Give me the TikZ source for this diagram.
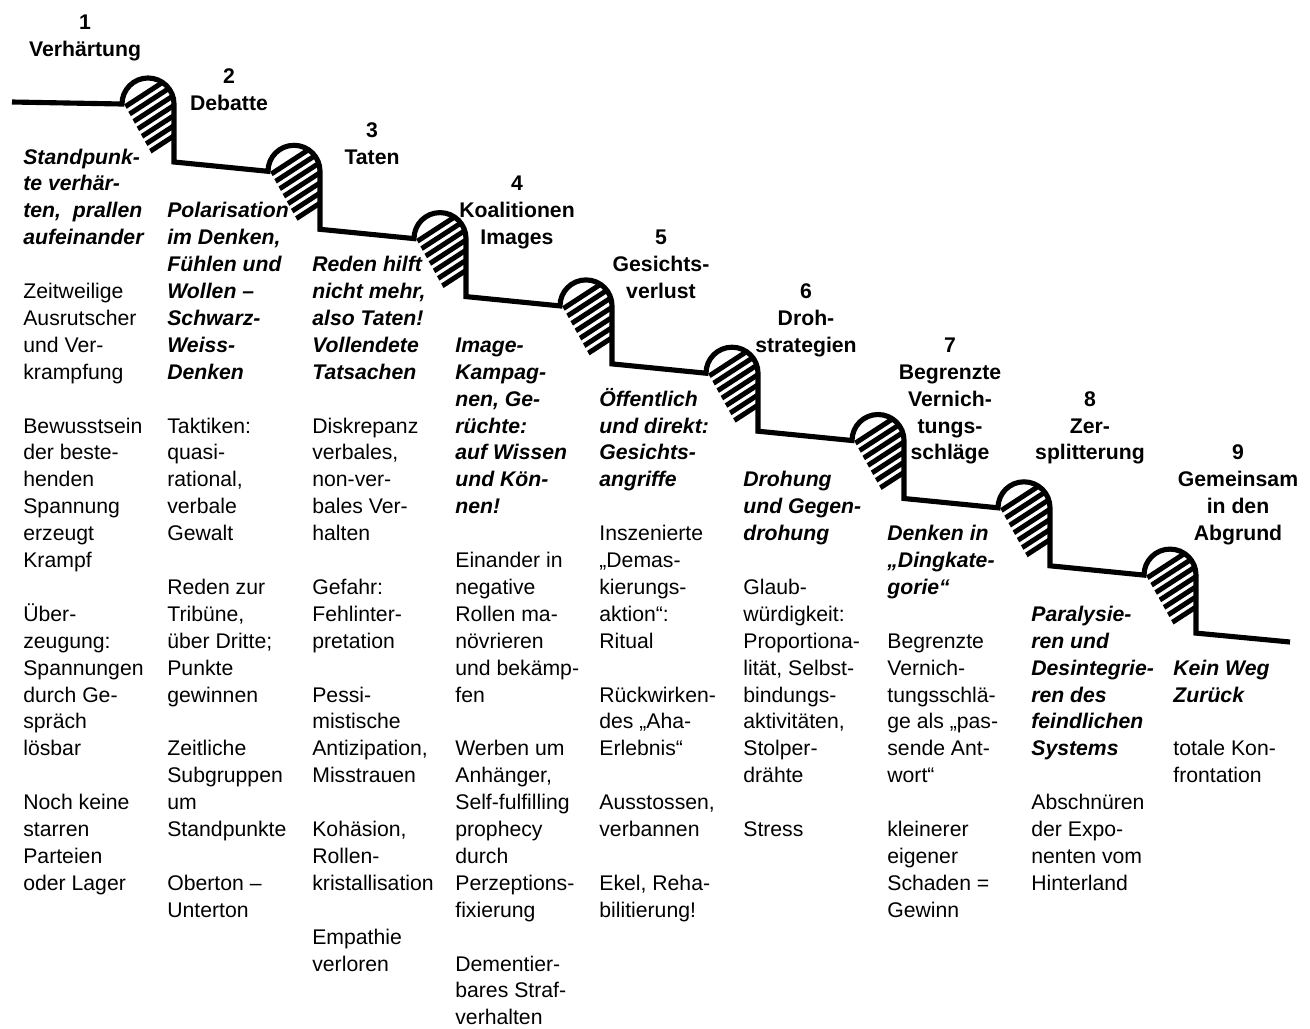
\documentclass[tikz,border=0pt]{standalone}
\usepackage{fontspec}
\setmainfont{Liberation Sans}
\newcommand\Para[5]{%
  \foreach \t [count=\k from 0] in {#5}{%
    \node[#2] (#1-\k) at (#3,{-(164+26.9*(#4+\k))}) {\t};}}
\begin{document}
\begin{tikzpicture}[x=0.566pt,y=0.566pt,
  txt/.style={anchor=base west,inner sep=0pt,font=\fontsize{12}{14}\selectfont},
  bi/.style={anchor=base west,inner sep=0pt,font=\fontsize{12}{14}\selectfont\bfseries\itshape},
  ttl/.style={anchor=base,inner sep=0pt,font=\fontsize{12}{14}\selectfont\bfseries},
  stair/.style={line width=2.9pt,line join=miter},
  hatch/.style={line width=2.83pt,line cap=butt}]
\useasboundingbox (0,0) rectangle (1310,-1028);

% hatching of the steps
\foreach \i in {0,...,7}{
  \begin{scope}[shift={({122+146*\i},{-(104+67.3*\i)})}]
    \clip (2,0) arc[start angle=180,end angle=0,radius=13.58pt] -- (52,0) -- (52,-60) -- (35.5,-60) -- cycle;
    \foreach \c in {4,12.5,...,55}{
      \draw[hatch] ({0.545*\c-50.3},{-0.839*\c-32.7}) -- ({0.545*\c+50.3},{-0.839*\c+32.7});
    }
  \end{scope}
}

% staircase line
\draw[stair] (12,-102) -- (122,-104)
  \foreach \i in {1,...,7}{ arc[start angle=180,end angle=0,radius=14.72pt] -- ++(0,-58) -- ({122+146*\i},{-(104+67.3*\i)}) }
  arc[start angle=180,end angle=0,radius=14.72pt] -- ++(0,-58) -- (1290,-642);

% titles
\Para{t1}{ttl}{85}{-5}{1,Verhärtung}
\Para{t2}{ttl}{229}{-3}{2,Debatte}
\Para{t3}{ttl}{372}{-1}{3,Taten}
\Para{t4}{ttl}{517}{1}{4,Koalitionen,Images}
\Para{t5}{ttl}{661}{3}{5,Gesichts-,verlust}
\Para{t6}{ttl}{806}{5}{6,Droh-,strategien}
\Para{t7}{ttl}{950}{7}{7,Begrenzte,Vernich-,tungs-,schläge}
\Para{t8}{ttl}{1090}{9}{8,Zer-,splitterung}
\Para{t9}{ttl}{1238}{11}{9,Gemeinsam,in den,Abgrund}

% column 1
\Para{c1a}{bi}{23}{0}{Standpunk-,te verhär-,{ten,\ \ prallen},aufeinander}
\Para{c1b}{txt}{23}{5}{Zeitweilige,Ausrutscher,und Ver-,krampfung}
\Para{c1c}{txt}{23}{10}{Bewusstsein,der beste-,henden,Spannung,erzeugt,Krampf}
\Para{c1d}{txt}{23}{17}{Über-,zeugung:,Spannungen,durch Ge-,spräch,lösbar}
\Para{c1e}{txt}{23}{24}{Noch keine,starren,Parteien,oder Lager}

% column 2
\Para{c2a}{bi}{167}{2}{Polarisation,{im Denken,},Fühlen und,Wollen –,Schwarz-,Weiss-,Denken}
\Para{c2b}{txt}{167}{10}{Taktiken:,quasi-,{rational,},verbale,Gewalt}
\Para{c2c}{txt}{167}{16}{Reden zur,{Tribüne,},über Dritte;,Punkte,gewinnen}
\Para{c2d}{txt}{167}{22}{Zeitliche,Subgruppen,um,Standpunkte}
\Para{c2e}{txt}{167}{27}{Oberton –,Unterton}

% column 3
\Para{c3a}{bi}{312}{4}{Reden hilft,{nicht mehr,},also Taten!,Vollendete,Tatsachen}
\Para{c3b}{txt}{312}{10}{Diskrepanz,{verbales,},non-ver-,bales Ver-,halten}
\Para{c3c}{txt}{312}{16}{Gefahr:,Fehlinter-,pretation}
\Para{c3d}{txt}{312}{20}{Pessi-,mistische,{Antizipation,},Misstrauen}
\Para{c3e}{txt}{312}{25}{{Kohäsion,},Rollen-,kristallisation}
\Para{c3f}{txt}{312}{29}{Empathie,verloren}

% column 4
\Para{c4a}{bi}{455}{7}{Image-,Kampag-,{nen, Ge-},rüchte:,auf Wissen,und Kön-,nen!}
\Para{c4b}{txt}{455}{15}{Einander in,negative,Rollen ma-,növrieren,und bekämp-,fen}
\Para{c4c}{txt}{455}{22}{Werben um,{Anhänger,},Self-fulfilling,prophecy,durch,Perzeptions-,fixierung}
\Para{c4d}{txt}{455}{30}{Dementier-,bares Straf-,verhalten}

% column 5
\Para{c5a}{bi}{599}{9}{Öffentlich,und direkt:,Gesichts-,angriffe}
\Para{c5b}{txt}{599}{14}{Inszenierte,„Demas-,kierungs-,aktion“:,Ritual}
\Para{c5c}{txt}{599}{20}{Rückwirken-,des „Aha-,Erlebnis“}
\Para{c5d}{txt}{599}{24}{{Ausstossen,},verbannen}
\Para{c5e}{txt}{599}{27}{{Ekel, Reha-},bilitierung!}

% column 6
\Para{c6a}{bi}{743}{12}{Drohung,und Gegen-,drohung}
\Para{c6b}{txt}{743}{16}{Glaub-,würdigkeit:,Proportiona-,{lität, Selbst-},bindungs-,{aktivitäten,},Stolper-,drähte}
\Para{c6c}{txt}{743}{25}{Stress}

% column 7
\Para{c7a}{bi}{887}{14}{Denken in,„Dingkate-,gorie“}
\Para{c7b}{txt}{887}{18}{Begrenzte,Vernich-,tungsschlä-,ge als „pas-,sende Ant-,wort“}
\Para{c7c}{txt}{887}{25}{kleinerer,eigener,Schaden =,Gewinn}

% column 8
\Para{c8a}{bi}{1031}{17}{Paralysie-,ren und,Desintegrie-,ren des,feindlichen,Systems}
\Para{c8b}{txt}{1031}{24}{Abschnüren,der Expo-,nenten vom,Hinterland}

% column 9
\Para{c9a}{bi}{1173}{19}{Kein Weg,Zurück}
\Para{c9b}{txt}{1173}{22}{totale Kon-,frontation}
\end{tikzpicture}
\end{document}
